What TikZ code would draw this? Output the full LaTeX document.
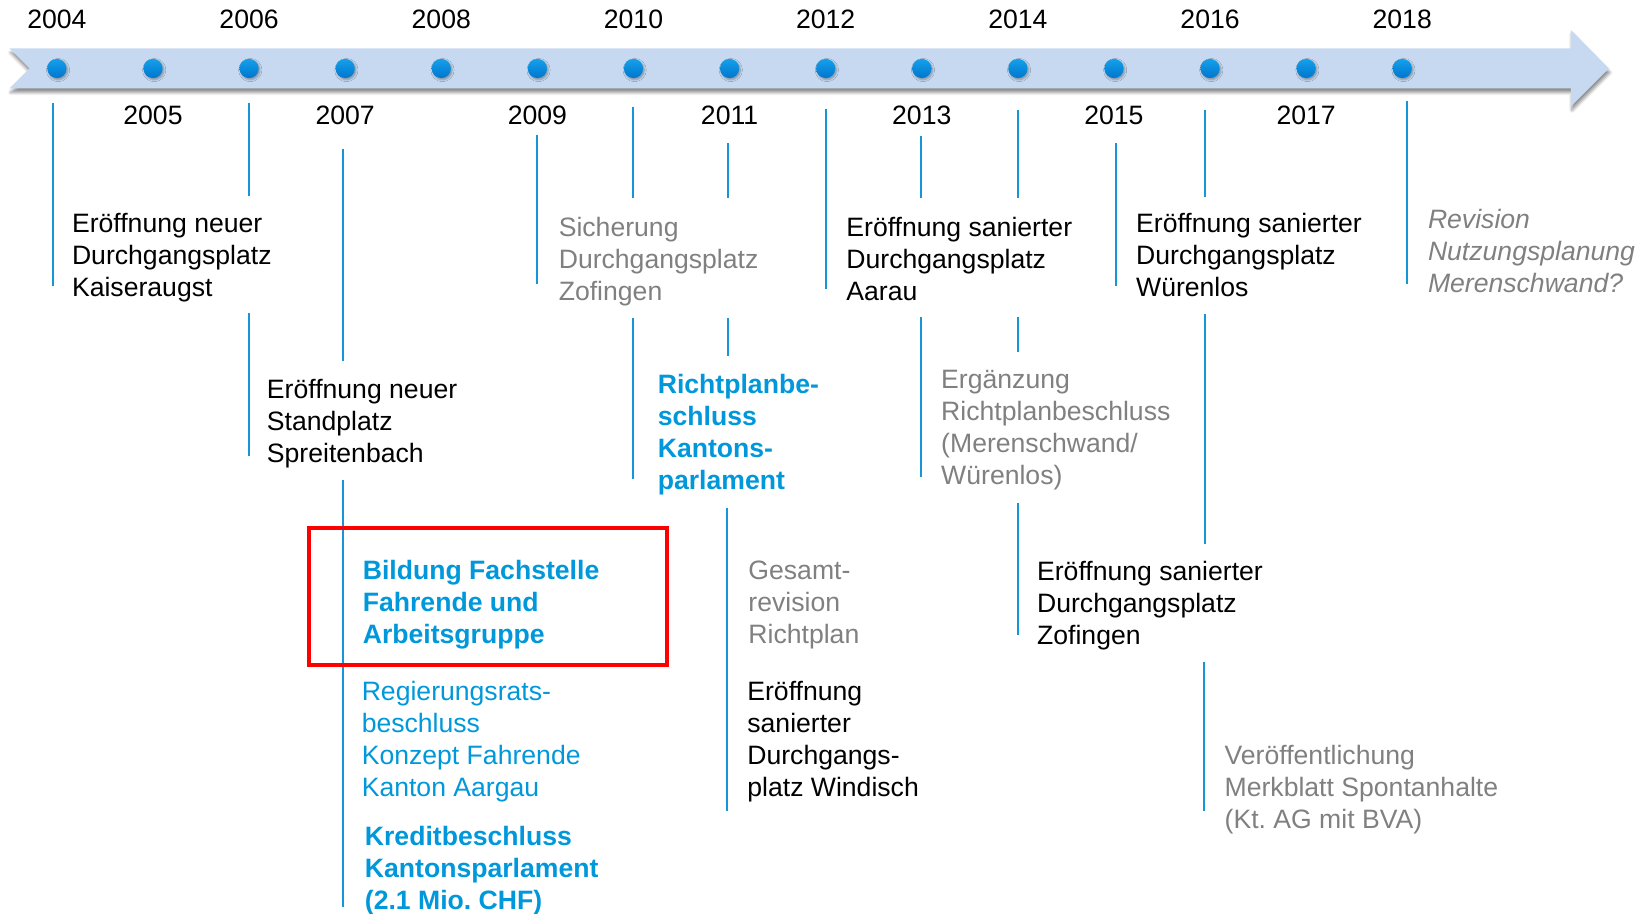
\documentclass[tikz,border=0pt]{standalone}
\usepackage{fontspec}
\setmainfont{Liberation Sans}
\usetikzlibrary{shadows.blur}
\definecolor{bandblue}{RGB}{198,217,241}
\definecolor{lineblue}{RGB}{20,150,215}
\definecolor{txtblue}{RGB}{0,152,218}
\definecolor{txtgray}{RGB}{128,128,128}
\definecolor{dottop}{RGB}{20,160,235}
\definecolor{dotbot}{RGB}{0,118,205}
\newcommand{\tlfont}{\fontsize{13.3pt}{16pt}\selectfont}
\begin{document}
\begin{tikzpicture}[x=0.5268pt,y=-0.5268pt,
  vline/.style={draw=lineblue, line width=1pt},
  yr/.style={anchor=base, inner sep=0pt, font=\tlfont},
  yeardot/.style={circle, minimum size=9.6pt, inner sep=0pt, top color=dottop, bottom color=dotbot, draw=none,
    blur shadow={shadow xshift=0.6pt, shadow yshift=-0.8pt, shadow blur radius=1pt, shadow opacity=35}},
  ev/.style={anchor=base west, align=left, inner sep=0pt, font=\tlfont},
  evbold/.style={ev, font=\tlfont\bfseries},
  redbox/.style={draw=red, line width=2pt}]
\useasboundingbox (0,0) rectangle (1568,867);
% timeline band
\path[fill=bandblue, blur shadow={shadow xshift=0.5pt, shadow yshift=-2pt, shadow blur radius=1.5pt, shadow opacity=45}]
  (9,46) -- (1491,46) -- (1491,28.5) -- (1527,65) -- (1491,101) -- (1491,84) -- (9,84) -- (28,65) -- cycle;
% dots and years
\foreach \i in {0,...,14}{
  \pgfmathtruncatemacro\yy{2004+\i}
  \pgfmathsetmacro\xx{54+91.21*\i}
  \node[yeardot] (d\yy) at (\xx,65) {};
  \ifodd\i
    \node[yr] (y\yy) at (\xx,118.5) {\yy};
  \else
    \node[yr] (y\yy) at (\xx,27) {\yy};
  \fi
}
% vertical lines
\draw[vline] (50,98) -- (50,271);
\draw[vline] (236,98) -- (236,186);
\draw[vline] (236,297) -- (236,433);
\draw[vline] (326,141) -- (326,343);
\draw[vline] (326,456) -- (326,861);
\draw[vline] (510,128) -- (510,270);
\draw[vline] (601,102) -- (601,188);
\draw[vline] (601,302) -- (601,455);
\draw[vline] (691,136) -- (691,188);
\draw[vline] (691,302) -- (691,338);
\draw[vline] (690,482) -- (690,770);
\draw[vline] (784,103) -- (784,274);
\draw[vline] (874,129) -- (874,188);
\draw[vline] (874,301) -- (874,453);
\draw[vline] (966,104) -- (966,188);
\draw[vline] (966,301) -- (966,334);
\draw[vline] (966,477) -- (966,603);
\draw[vline] (1059,136) -- (1059,271);
\draw[vline] (1144,104) -- (1144,187);
\draw[vline] (1144,298) -- (1144,516);
\draw[vline] (1143,628) -- (1143,770);
\draw[vline] (1335,96) -- (1335,270);
% events (anchored at the baseline of the last line)
\node[ev] (kaiseraugst) at (68,281.2) {Eröffnung neuer\\Durchgangsplatz\\Kaiseraugst};
\node[ev] (spreitenbach) at (253,439.2) {Eröffnung neuer\\Standplatz\\Spreitenbach};
\node[ev, text=txtgray] (sicherung) at (530,285.2) {Sicherung\\Durchgangsplatz\\Zofingen};
\node[evbold, text=txtblue] (richtplanbeschluss) at (624,464.6) {Richtplanbe-\\schluss\\Kantons-\\parlament};
\node[ev] (aarau) at (803,285.2) {Eröffnung sanierter\\Durchgangsplatz\\Aarau};
\node[ev, text=txtgray] (ergaenzung) at (893,459.6) {Ergänzung\\Richtplanbeschluss\\(Merenschwand/\\Würenlos)};
\node[ev] (wuerenlos) at (1078,281.2) {Eröffnung sanierter\\Durchgangsplatz\\Würenlos};
\node[ev, text=txtgray, font=\tlfont\itshape] (revision) at (1355,277.7) {Revision\\Nutzungsplanung\\Merenschwand?};
\node[evbold, text=txtblue] (fachstelle) at (344,611.2) {Bildung Fachstelle\\Fahrende und\\Arbeitsgruppe};
\node[ev, text=txtblue] (regierungsrat) at (343,756.1) {Regierungsrats-\\beschluss\\Konzept Fahrende\\Kanton Aargau};
\node[evbold, text=txtblue] (kredit) at (346,863.7) {Kreditbeschluss\\Kantonsparlament\\(2.1 Mio.\ CHF)};
\node[ev, text=txtgray] (gesamtrevision) at (710,611.2) {Gesamt-\\revision\\Richtplan};
\node[ev] (windisch) at (709,756.1) {Eröffnung\\sanierter\\Durchgangs-\\platz Windisch};
\node[ev] (zofingen) at (984,611.7) {Eröffnung sanierter\\Durchgangsplatz\\Zofingen};
\node[ev, text=txtgray] (merkblatt) at (1162,786.7) {Veröffentlichung\\Merkblatt Spontanhalte\\(Kt.\ AG mit BVA)};
% highlight box
\draw[redbox] (293.5,501.5) rectangle (633.5,631.5);
\end{tikzpicture}
\end{document}
